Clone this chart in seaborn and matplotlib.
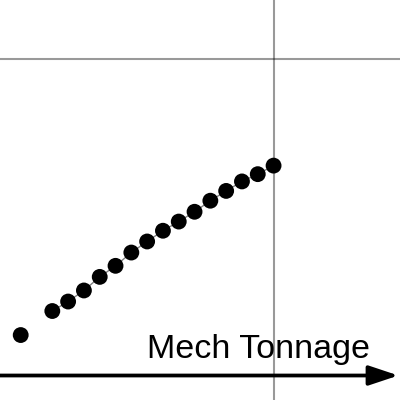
import numpy as np
import pandas as pd
import matplotlib.pyplot as plt
import seaborn as sns

# values (25 t has no point, so the line breaks there)
tonnage = [20, 25, 30, 35, 40, 45, 50, 55, 60, 65, 70, 75, 80, 85, 90, 95, 100]
value = [12.8, np.nan, 20.4, 23.4, 26.9, 31.2, 34.7, 38.9, 42.4, 45.8,
         48.7, 51.8, 55.3, 58.4, 61.4, 63.7, 66.4]
grid_x = [100]
grid_y = [100]
axis_label = "Mech Tonnage"

df = pd.DataFrame({"tonnage": tonnage, "value": value})

sns.set_style("white")
plt.rcParams['font.family'] = ['Liberation Sans', 'DejaVu Sans']

fig = plt.figure(figsize=(4, 4), dpi=100)
ax = fig.add_axes([0, 0, 1, 1])
ax.set_xlim(13.45, 140.0)
ax.set_ylim(-7.75, 118.8)
ax.axis("off")

# grid lines
for gx in grid_x:
    ax.axvline(gx, color="black", alpha=0.4, lw=1.5, zorder=1)
for gy in grid_y:
    ax.axhline(gy, color="black", alpha=0.4, lw=1.5, zorder=1)

# thin connecting line, then the dots
ax.plot(df["tonnage"], df["value"], color="gray", lw=1, zorder=2)
sns.scatterplot(data=df, x="tonnage", y="value", ax=ax, color="black",
                s=130, edgecolor="none", zorder=3)

# x axis arrow
ax.annotate("", xy=(139.5, 0), xytext=(13.0, 0),
            arrowprops=dict(arrowstyle="-|>,head_length=0.9,head_width=0.3",
                            lw=2.7, color="black", mutation_scale=20,
                            shrinkA=0, shrinkB=0), zorder=4)
ax.text(130.5, 5.6, axis_label, ha="right", va="baseline", fontsize=24.5,
        color="black", zorder=4)

fig.savefig("out.png", dpi=100)
